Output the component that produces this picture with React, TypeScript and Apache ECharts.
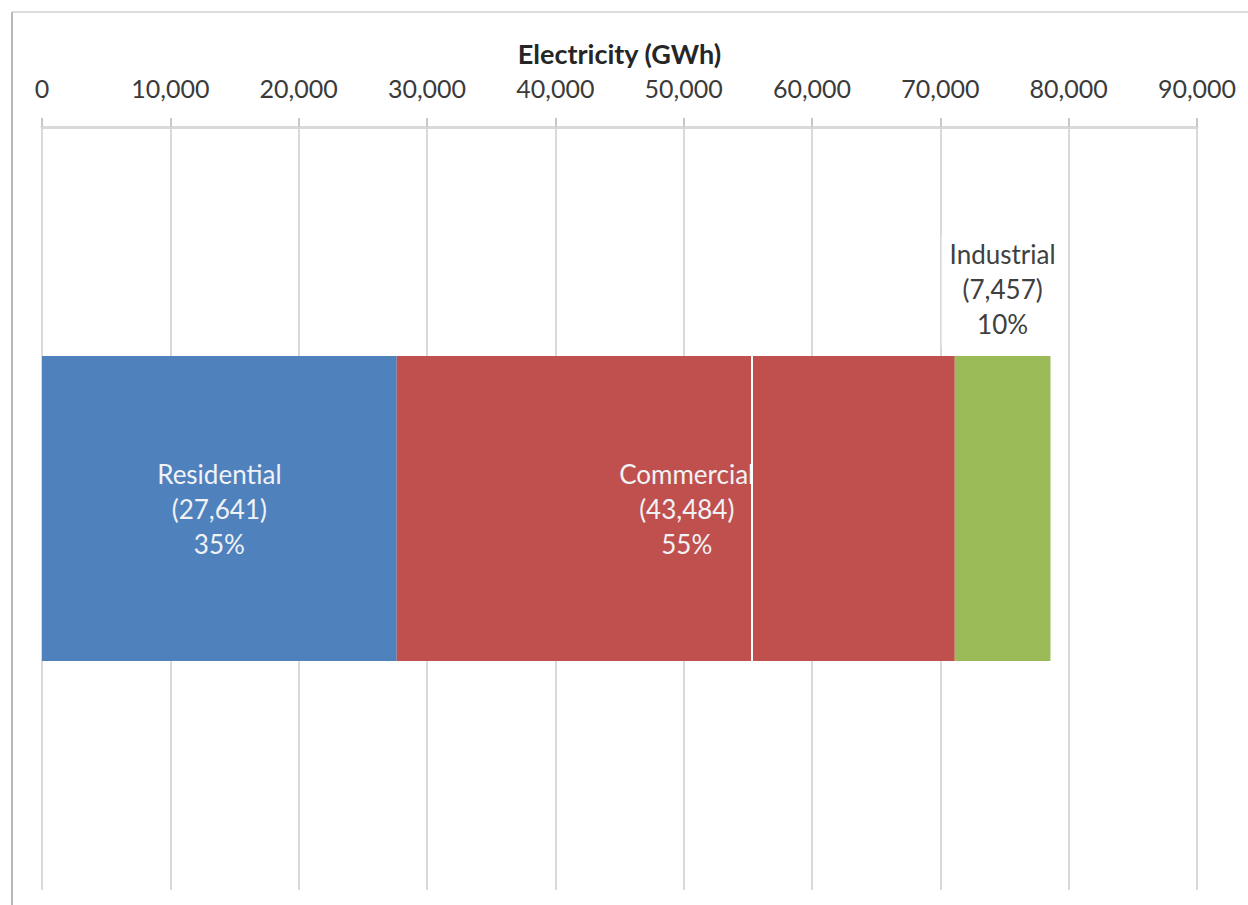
import React, { useEffect, useRef } from "react";
import * as echarts from "echarts";

const categories = ["Electricity"];
const sectorNames = ["Residential", "Commercial", "Industrial"];
const sectorValues = [27641, 43484, 7457];
const sectorPercents = [35, 55, 10];
const sectorColors = ["#4F81BD", "#C0504D", "#9BBB59"];
const axisTicks = [0, 10000, 20000, 30000, 40000, 50000, 60000, 70000, 80000, 90000];

const fmt = (v: number) => v.toLocaleString("en-US");
const FONT = "Lato, 'Open Sans', sans-serif";

export default function App() {
  const ref = useRef<HTMLDivElement>(null);
  useEffect(() => {
    document.body.style.margin = "0";
    const chart = echarts.init(ref.current!, null, { renderer: "svg" });
    const series = sectorNames.map((name, i) => {
      const inside = i < 2;
      return {
        type: "bar",
        name,
        stack: "total",
        barWidth: "40%",
        data: [sectorValues[i]],
        itemStyle: { color: sectorColors[i] },
        label: {
          show: true,
          position: inside ? "inside" : "top",
          distance: inside ? 0 : 10,
          offset: i === 1 ? [11, 0] : [0, 0],
          formatter: () => `${name}\n(${fmt(sectorValues[i])})\n${sectorPercents[i]}%`,
          color: inside ? "#f0f2f6" : "#404040",
          fontFamily: FONT,
          fontSize: 26,
          lineHeight: 35,
          align: "center",
          backgroundColor: inside ? "transparent" : "#ffffff",
          padding: inside ? 0 : [2, 8, 4, 8],
        },
      };
    });
    chart.setOption({
      animation: false,
      backgroundColor: "#ffffff",
      grid: { left: 42, right: 51, top: 127, bottom: 15, containLabel: false },
      xAxis: {
        type: "value",
        position: "top",
        min: axisTicks[0],
        max: axisTicks[axisTicks.length - 1],
        interval: axisTicks[1] - axisTicks[0],
        name: "Electricity (GWh)",
        nameLocation: "middle",
        nameGap: 60,
        nameTextStyle: { fontFamily: FONT, fontSize: 27, fontWeight: "bold", color: "#262626" },
        axisLine: { show: true, lineStyle: { color: "#d9d9d9", width: 3 } },
        axisTick: { show: true, length: 9, lineStyle: { color: "#c8c8c8", width: 2 } },
        axisLabel: {
          margin: 27,
          fontFamily: FONT,
          fontSize: 25,
          color: "#3a3a3a",
          formatter: (v: number) => fmt(v),
        },
        splitLine: { show: true, lineStyle: { color: "#d9d9d9", width: 2 } },
      },
      yAxis: {
        type: "category",
        data: categories,
        show: false,
      },
      graphic: [
        { type: "line", shape: { x1: 12, y1: 12, x2: 1248, y2: 12 }, style: { stroke: "#dcdcdc", lineWidth: 2 } },
        { type: "line", shape: { x1: 12, y1: 12, x2: 12, y2: 905 }, style: { stroke: "#b8b8b8", lineWidth: 2 } },
        { type: "rect", shape: { x: 751, y: 356, width: 2, height: 307 }, style: { fill: "#ffffff" }, z: 100 },
      ],
      series,
    });
    return () => chart.dispose();
  }, []);
  return <div ref={ref} style={{ width: 1248, height: 905 }} />;
}
